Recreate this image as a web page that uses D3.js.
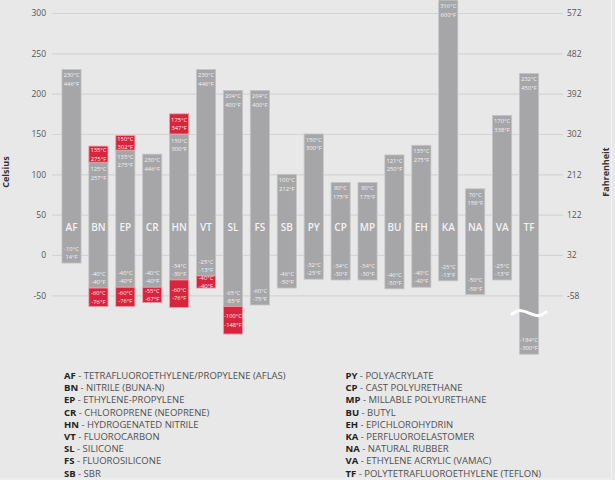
<!doctype html>
<html>
<head>
<meta charset="utf-8">
<style>
    body { margin: 0; background: #e8e8e8; font-family: 'Open Sans', sans-serif; }
    svg { display: block; }
    .grid line { stroke: #d4d4d4; stroke-width: 1.2; }
    .grid path { stroke-width: 0; }
    .axis path { stroke-width: 0; }
    .axis line { stroke-width: 0; }
    .axis text { font-size: 8.5px; fill: #555; font-family: 'Open Sans', sans-serif; }
    .bar { fill: #a6a6a8; stroke: #c4c4c6; stroke-width: 0.8; }
    .ext { fill: #d8243c; stroke: #e8a0a8; stroke-width: 0.8; }
    .code { font-size: 10px; font-weight: 600; fill: #f3f3f3; text-anchor: middle; }
    .val { font-size: 5.8px; fill: #f2f2f2; text-anchor: middle; }
    .title { font-size: 9px; font-weight: 700; fill: #333; text-anchor: middle; }
    .legend { font-size: 9.5px; fill: #505050; }
    .legend tspan.k { font-weight: 700; fill: #222; }
</style>
<script src="https://d3js.org/d3.v7.min.js"></script>
</head>
<body>
<svg width="615" height="480"></svg>
<script>
    const codes = ['AF','BN','EP','CR','HN','VT','SL','FS','SB','PY','CP','MP','BU','EH','KA','NA','VA','TF']
    const names = ['TETRAFLUOROETHYLENE/PROPYLENE (AFLAS)','NITRILE (BUNA-N)','ETHYLENE-PROPYLENE',
        'CHLOROPRENE (NEOPRENE)','HYDROGENATED NITRILE','FLUOROCARBON','SILICONE','FLUOROSILICONE','SBR',
        'POLYACRYLATE','CAST POLYURETHANE','MILLABLE POLYURETHANE','BUTYL','EPICHLOROHYDRIN',
        'PERFLUOROELASTOMER','NATURAL RUBBER','ETHYLENE ACRYLIC (VAMAC)','POLYTETRAFLUOROETHYLENE (TEFLON)']

    // bar ends in celsius as drawn in the picture
    const high = [230,115,130,125,150,230,204,204,100,150,90,90,124,136,316,82,173,225]
    const low = [-10,-41,-40,-40,-31,-26,-64,-62,-41,-30,-31,-31,-42,-40,-32,-49,-31,-123]
    const highExt = [null,135,148,null,175,null,null,null,null,null,null,null,null,null,null,null,null,null]
    const lowExt = [null,-64,-64,-59,-65,-41,-98,null,null,null,null,null,null,null,null,null,null,null]
    const axisBreak = [null,null,null,null,null,null,null,null,null,null,null,null,null,null,null,null,null,-72]

    const highC = ['230°C','125°C','135°C','230°C','150°C','230°C','204°C','204°C','100°C','150°C','80°C','80°C','121°C','135°C','316°C','70°C','170°C','232°C']
    const highF = ['446°F','257°F','275°F','446°F','300°F','446°F','400°F','400°F','212°F','300°F','175°F','175°F','250°F','275°F','600°F','158°F','338°F','450°F']
    const lowC = ['-10°C','-40°C','-40°C','-40°C','-34°C','-25°C','-65°C','-60°C','-46°C','-32°C','-34°C','-34°C','-46°C','-40°C','-25°C','-50°C','-25°C','-184°C']
    const lowF = ['14°F','-40°F','-40°F','-40°F','-30°F','-13°F','-85°F','-75°F','-50°F','-25°F','-30°F','-30°F','-50°F','-40°F','-13°F','-58°F','-13°F','-300°F']
    const highExtC = [null,'135°C','150°C',null,'175°C',null,null,null,null,null,null,null,null,null,null,null,null,null]
    const highExtF = [null,'275°F','302°F',null,'347°F',null,null,null,null,null,null,null,null,null,null,null,null,null]
    const lowExtC = [null,'-60°C','-60°C','-55°C','-60°C','-40°C','-100°C',null,null,null,null,null,null,null,null,null,null,null]
    const lowExtF = [null,'-76°F','-76°F','-67°F','-76°F','-40°F','-148°F',null,null,null,null,null,null,null,null,null,null,null]

    const celsiusTicks = [-50, 0, 50, 100, 150, 200, 250, 300]
    const fahrenheitTicks = [-58, 32, 122, 212, 302, 392, 482, 572]

    const svg = d3.select('svg')

    const gridLeft = 52
    const gridRight = 563

    const xScale = d3.scaleBand()
        .domain(codes)
        .range([48.5, 552])
        .paddingInner(0.29)
        .paddingOuter(0.5)

    const yScale = d3.scaleLinear()
        .domain([-50, 300])
        .range([295.3, 13])

    const yScaleF = d3.scaleLinear()
        .domain([-58, 572])
        .range([295.3, 13])

    // frame
    svg.append('line').attr('x1', 611.5).attr('x2', 611.5).attr('y1', 0).attr('y2', 479)
        .attr('stroke', '#f2f2f2').attr('stroke-width', 1)
    svg.append('line').attr('x1', 0).attr('x2', 611.5).attr('y1', 479).attr('y2', 479)
        .attr('stroke', '#f2f2f2').attr('stroke-width', 1)

    svg.append('g')
        .attr('class', 'grid')
        .attr('transform', `translate(${gridLeft}, 0)`)
        .call(d3.axisLeft(yScale)
            .tickValues(celsiusTicks)
            .tickSize(-(gridRight - gridLeft))
            .tickFormat(''))

    // plain hyphen for negatives, like the original
    const plain = (d) => String(d)

    svg.append('g')
        .attr('class', 'axis')
        .attr('transform', `translate(${gridLeft}, 0)`)
        .call(d3.axisLeft(yScale).tickValues(celsiusTicks).tickFormat(plain).tickSize(0).tickPadding(6))

    svg.append('g')
        .attr('class', 'axis')
        .attr('transform', `translate(${gridRight}, 0)`)
        .call(d3.axisRight(yScaleF).tickValues(fahrenheitTicks).tickFormat(plain).tickSize(0).tickPadding(4))

    const bw = xScale.bandwidth()
    const idx = d3.range(codes.length)

    const groups = svg.selectAll('g.barGroup')
        .data(idx)
        .enter()
        .append('g')
        .attr('class', 'barGroup')

    groups.append('rect')
        .attr('class', 'bar')
        .attr('x', (i) => xScale(codes[i]))
        .attr('y', (i) => yScale(high[i]))
        .attr('width', bw)
        .attr('height', (i) => yScale(low[i]) - yScale(high[i]))

    groups.filter((i) => highExt[i] !== null)
        .append('rect')
        .attr('class', 'ext')
        .attr('x', (i) => xScale(codes[i]))
        .attr('y', (i) => yScale(highExt[i]))
        .attr('width', bw)
        .attr('height', (i) => yScale(high[i]) - yScale(highExt[i]))

    groups.filter((i) => lowExt[i] !== null)
        .append('rect')
        .attr('class', 'ext')
        .attr('x', (i) => xScale(codes[i]))
        .attr('y', (i) => yScale(low[i]))
        .attr('width', bw)
        .attr('height', (i) => yScale(lowExt[i]) - yScale(low[i]))

    const cx = (i) => xScale(codes[i]) + bw / 2

    groups.append('text')
        .attr('class', 'code')
        .attr('x', cx)
        .attr('y', 231.3)
        .text((i) => codes[i])

    // top labels (below the top of the grey bar)
    groups.append('text').attr('class', 'val')
        .attr('x', cx).attr('y', (i) => yScale(high[i]) + (highExt[i] !== null ? 8.8 : 8))
        .text((i) => highC[i])
    groups.append('text').attr('class', 'val')
        .attr('x', cx).attr('y', (i) => yScale(high[i]) + (highExt[i] !== null ? 17.3 : 16.5))
        .text((i) => highF[i])

    // bottom labels (above the bottom of the grey bar)
    groups.append('text').attr('class', 'val')
        .attr('x', cx).attr('y', (i) => yScale(low[i]) - 12)
        .text((i) => lowC[i])
    groups.append('text').attr('class', 'val')
        .attr('x', cx).attr('y', (i) => yScale(low[i]) - 3.8)
        .text((i) => lowF[i])

    // labels centred in the red boxes
    const hiMid = (i) => (yScale(highExt[i]) + yScale(high[i])) / 2
    const loMid = (i) => (yScale(lowExt[i]) + yScale(low[i])) / 2
    const withHi = groups.filter((i) => highExt[i] !== null)
    withHi.append('text').attr('class', 'val').attr('x', cx).attr('y', (i) => hiMid(i) - 2.1).text((i) => highExtC[i])
    withHi.append('text').attr('class', 'val').attr('x', cx).attr('y', (i) => hiMid(i) + 6.5).text((i) => highExtF[i])
    const withLo = groups.filter((i) => lowExt[i] !== null)
    withLo.append('text').attr('class', 'val').attr('x', cx).attr('y', (i) => loMid(i) - 2.1).text((i) => lowExtC[i])
    withLo.append('text').attr('class', 'val').attr('x', cx).attr('y', (i) => loMid(i) + 6.5).text((i) => lowExtF[i])

    // axis break wave
    const wave = d3.line().curve(d3.curveBasis)
    groups.filter((i) => axisBreak[i] !== null)
        .append('path')
        .attr('d', (i) => {
            const c = cx(i), y = yScale(axisBreak[i])
            return wave([[c - 17, y + 1], [c - 10, y - 4], [c, y], [c + 10, y + 4], [c + 17, y - 1]])
        })
        .attr('fill', 'none')
        .attr('stroke', '#ffffff')
        .attr('stroke-width', 3)
        .attr('stroke-linecap', 'round')

    // axis titles
    svg.append('text')
        .attr('class', 'title')
        .attr('transform', 'translate(9, 172) rotate(-90)')
        .text('Celsius')

    svg.append('text')
        .attr('class', 'title')
        .attr('transform', 'translate(609, 172) rotate(-90)')
        .text('Fahrenheit')

    // legend
    const half = 9
    const legend = svg.append('g')
    legend.selectAll('text')
        .data(idx)
        .enter()
        .append('text')
        .attr('class', 'legend')
        .attr('x', (i) => i < half ? 64 : 345.5)
        .attr('y', (i) => 379 + (i % half) * 12.2)
        .each(function (i) {
            const t = d3.select(this)
            t.append('tspan').attr('class', 'k').text(codes[i])
            t.append('tspan').text(' - ' + names[i])
        })
</script>
</body>
</html>
